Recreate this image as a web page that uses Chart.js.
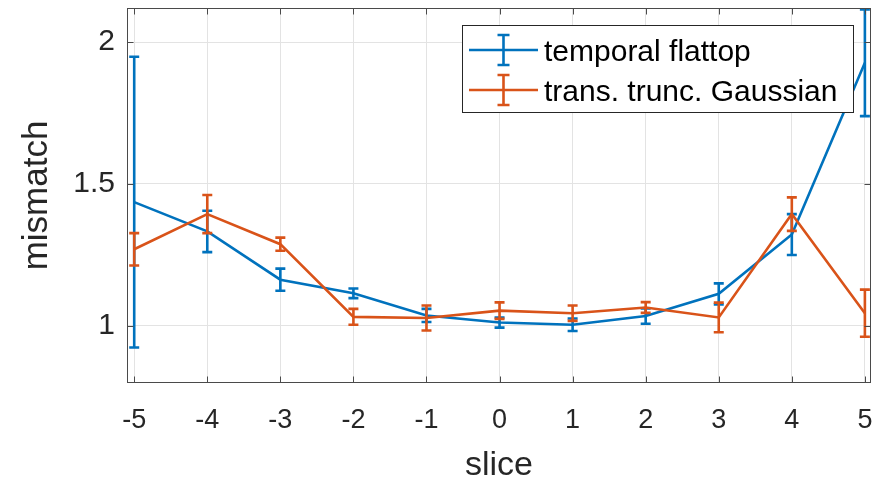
<!DOCTYPE html>
<html><head><meta charset="utf-8">
<script src="https://cdn.jsdelivr.net/npm/chart.js@4/dist/chart.umd.min.js"></script>
<style>html,body{margin:0;padding:0;background:#fff;overflow:hidden}#wrap{width:889px;height:481px}</style>
</head><body><div id="wrap"><canvas id="c" width="889" height="481"></canvas></div>
<script>
// ---- data ----
const slices = [-5, -4, -3, -2, -1, 0, 1, 2, 3, 4, 5];
const xTickLabels = ['-5', '-4', '-3', '-2', '-1', '0', '1', '2', '3', '4', '5'];
const yTickValues = [1, 1.5, 2];
const yTickLabels = ['1', '1.5', '2'];
const seriesNames = ['temporal flattop', 'trans. trunc. Gaussian'];
const flattopMean = [1.436, 1.333, 1.163, 1.115, 1.037, 1.012, 1.004, 1.035, 1.113, 1.322, 1.927];
const flattopErr  = [0.512, 0.073, 0.039, 0.017, 0.023, 0.018, 0.022, 0.027, 0.037, 0.072, 0.188];
const gaussMean   = [1.270, 1.394, 1.288, 1.032, 1.028, 1.054, 1.045, 1.065, 1.030, 1.394, 1.045];
const gaussErr    = [0.057, 0.067, 0.023, 0.028, 0.044, 0.029, 0.027, 0.019, 0.052, 0.059, 0.083];
const axisTitles = {x: 'slice', y: 'mismatch'};

const BLUE = '#0072BD', ORANGE = '#D95319', TXT = '#262626', AX = '#4a4a4a';
const FONT = "'Liberation Sans', Arial, Helvetica, sans-serif";

const toPts = (m) => slices.map((x, i) => ({x: x, y: m[i]}));

const errorBars = {
  id: 'errorBars',
  afterDatasetDraw(chart, args) {
    const ds = chart.data.datasets[args.index];
    if (!ds.err) return;
    const {ctx, chartArea: a, scales: {x, y}} = chart;
    ctx.save();
    ctx.beginPath();
    ctx.rect(a.left, a.top - 1, a.right - a.left, a.bottom - a.top + 2);
    ctx.clip();
    ctx.strokeStyle = ds.borderColor;
    ctx.lineWidth = 2.6;
    ctx.lineCap = 'butt';
    const hw = 5;
    ds.data.forEach((p, i) => {
      const px = x.getPixelForValue(p.x);
      const pt = y.getPixelForValue(p.y + ds.err[i]);
      const pb = y.getPixelForValue(p.y - ds.err[i]);
      ctx.beginPath();
      ctx.moveTo(px, pt); ctx.lineTo(px, pb);
      ctx.moveTo(px - hw, pt); ctx.lineTo(px + hw, pt);
      ctx.moveTo(px - hw, pb); ctx.lineTo(px + hw, pb);
      ctx.stroke();
    });
    ctx.restore();
  }
};

const frame = {
  id: 'frame',
  afterDraw(chart) {
    const {ctx, chartArea: a, scales: {x, y}} = chart;
    ctx.save();
    ctx.strokeStyle = AX;
    ctx.lineWidth = 1;
    const L = Math.round(a.left) - 0.5, R = Math.round(a.right) + 0.5;
    const T = Math.round(a.top) - 0.5, B = Math.round(a.bottom) + 0.5;
    ctx.strokeRect(L, T, R - L, B - T);
    const tl = 6;
    ctx.beginPath();
    x.ticks.forEach(t => {
      const px = Math.round(x.getPixelForValue(t.value)) + 0.5;
      ctx.moveTo(px, B); ctx.lineTo(px, B - tl);
      ctx.moveTo(px, T); ctx.lineTo(px, T + tl);
    });
    y.ticks.forEach(t => {
      const py = Math.round(y.getPixelForValue(t.value)) + 0.5;
      ctx.moveTo(L, py); ctx.lineTo(L + tl, py);
      ctx.moveTo(R, py); ctx.lineTo(R - tl, py);
    });
    ctx.stroke();

    // legend
    const bx = 462.5, by = 25.5, bw = 391, bh = 87;
    ctx.fillStyle = '#fff';
    ctx.fillRect(bx, by, bw, bh);
    ctx.strokeStyle = '#262626';
    ctx.lineWidth = 1;
    ctx.strokeRect(bx, by, bw, bh);
    const rows = [50, 90];
    chart.data.datasets.forEach((ds, i) => {
      const cy = rows[i];
      ctx.strokeStyle = ds.borderColor;
      ctx.lineWidth = 2.6;
      ctx.beginPath();
      ctx.moveTo(469, cy); ctx.lineTo(538, cy);
      const cx = 503.5, h = 15, hw = 6;
      ctx.moveTo(cx, cy - h); ctx.lineTo(cx, cy + h);
      ctx.moveTo(cx - hw, cy - h); ctx.lineTo(cx + hw, cy - h);
      ctx.moveTo(cx - hw, cy + h); ctx.lineTo(cx + hw, cy + h);
      ctx.stroke();
      ctx.fillStyle = '#000';
      ctx.font = '30px ' + FONT;
      ctx.textAlign = 'left';
      ctx.textBaseline = 'alphabetic';
      ctx.fillText(ds.label, 544, cy + 11);
    });
    ctx.restore();
  }
};

new Chart(document.getElementById('c'), {
  type: 'line',
  data: {
    datasets: [
      {label: seriesNames[0], data: toPts(flattopMean), err: flattopErr, borderColor: BLUE, backgroundColor: BLUE, borderWidth: 2.6, pointRadius: 0, order: 1, tension: 0},
      {label: seriesNames[1], data: toPts(gaussMean), err: gaussErr, borderColor: ORANGE, backgroundColor: ORANGE, borderWidth: 2.6, pointRadius: 0, order: 0, tension: 0}
    ]
  },
  options: {
    responsive: false,
    animation: false,
    devicePixelRatio: 1,
    layout: {padding: {left: 0, top: 9, right: 19, bottom: 0}},
    plugins: {legend: {display: false}, tooltip: {enabled: false}},
    scales: {
      x: {
        type: 'linear', min: -5.085, max: 5.07,
        afterBuildTicks: s => { s.ticks = slices.map(v => ({value: v})); },
        afterFit: s => { s.height = 99; s.paddingLeft = 0; s.paddingRight = 0; },
        grid: {color: '#e3e3e3', lineWidth: 1, drawTicks: false},
        border: {display: false},
        ticks: {padding: 22, color: TXT, font: {family: FONT, size: 27}, maxRotation: 0,
          callback: (v) => xTickLabels[slices.indexOf(v)]},
        title: {display: true, text: axisTitles.x, color: TXT, font: {family: FONT, size: 34, lineHeight: 0.93}, padding: {top: 0, bottom: 0}}
      },
      y: {
        type: 'linear', min: 0.8026, max: 2.1163,
        afterBuildTicks: s => { s.ticks = yTickValues.map(v => ({value: v})); },
        afterFit: s => { s.width = 128; s.paddingTop = 0; s.paddingBottom = 0; },
        grid: {color: '#e3e3e3', lineWidth: 1, drawTicks: false},
        border: {display: false},
        ticks: {padding: 13, color: TXT, font: {family: FONT, size: 30},
          callback: (v) => yTickLabels[yTickValues.indexOf(v)]},
        title: {display: true, text: axisTitles.y, color: TXT, font: {family: FONT, size: 35, lineHeight: 1}, padding: {top: 20, bottom: 0}}
      }
    }
  },
  plugins: [errorBars, frame]
});
</script></body></html>
